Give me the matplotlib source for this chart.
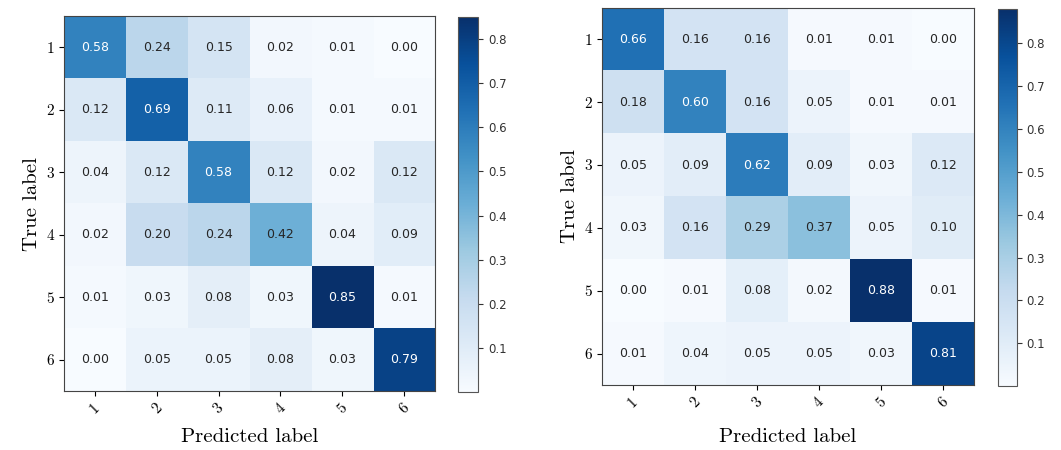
import numpy as np
import matplotlib.pyplot as plt

############ data ##################
classes = ['1', '2', '3', '4', '5', '6']

cm_left = np.array([
    [0.58, 0.24, 0.15, 0.02, 0.01, 0.00],
    [0.12, 0.69, 0.11, 0.06, 0.01, 0.01],
    [0.04, 0.12, 0.58, 0.12, 0.02, 0.12],
    [0.02, 0.20, 0.24, 0.42, 0.04, 0.09],
    [0.01, 0.03, 0.08, 0.03, 0.85, 0.01],
    [0.00, 0.05, 0.05, 0.08, 0.03, 0.79],
])

cm_right = np.array([
    [0.66, 0.16, 0.16, 0.01, 0.01, 0.00],
    [0.18, 0.60, 0.16, 0.05, 0.01, 0.01],
    [0.05, 0.09, 0.62, 0.09, 0.03, 0.12],
    [0.03, 0.16, 0.29, 0.37, 0.05, 0.10],
    [0.00, 0.01, 0.08, 0.02, 0.88, 0.01],
    [0.01, 0.04, 0.05, 0.05, 0.03, 0.81],
])

serif = 'cmr10'

############ plotting ##############
def plot_cm(fig, ax, cax, cm, pad):
    im = ax.imshow(cm, interpolation='nearest', cmap=plt.cm.Blues, aspect='auto')
    cb = fig.colorbar(im, cax=cax)
    cb.set_ticks([0.1, 0.2, 0.3, 0.4, 0.5, 0.6, 0.7, 0.8])
    cb.ax.tick_params(labelsize=8.5, colors='#333333')
    cb.outline.set_edgecolor('#555555')
    ticks = np.arange(len(classes))
    ax.set_xticks(ticks)
    ax.set_yticks(ticks)
    ax.set_xticklabels(classes, rotation=45, fontfamily=serif, fontsize=11)
    ax.set_yticklabels(classes, fontfamily=serif, fontsize=11)
    for s in ax.spines.values():
        s.set_edgecolor('#444444')
    thresh = cm.max() / 2.
    for i in range(cm.shape[0]):
        for j in range(cm.shape[1]):
            ax.text(j, i, format(cm[i, j], '.2f'),
                    ha='center', va='center', fontsize=9,
                    color='white' if cm[i, j] > thresh else '#262626')
    ax.set_ylabel('True label', fontfamily=serif, fontsize=15)
    ax.set_xlabel('Predicted label', fontfamily=serif, fontsize=15, labelpad=pad)


fig = plt.figure(figsize=(10.61, 4.5), dpi=100)
ax1 = fig.add_axes([0.0603, 0.131, 0.3497, 0.833])
cax1 = fig.add_axes([0.4317, 0.129, 0.0189, 0.833])
ax2 = fig.add_axes([0.5674, 0.1444, 0.3506, 0.838])
cax2 = fig.add_axes([0.9406, 0.142, 0.0179, 0.838])

plot_cm(fig, ax1, cax1, cm_left, 9)
plot_cm(fig, ax2, cax2, cm_right, 13)

fig.savefig('out.png', dpi=100)
